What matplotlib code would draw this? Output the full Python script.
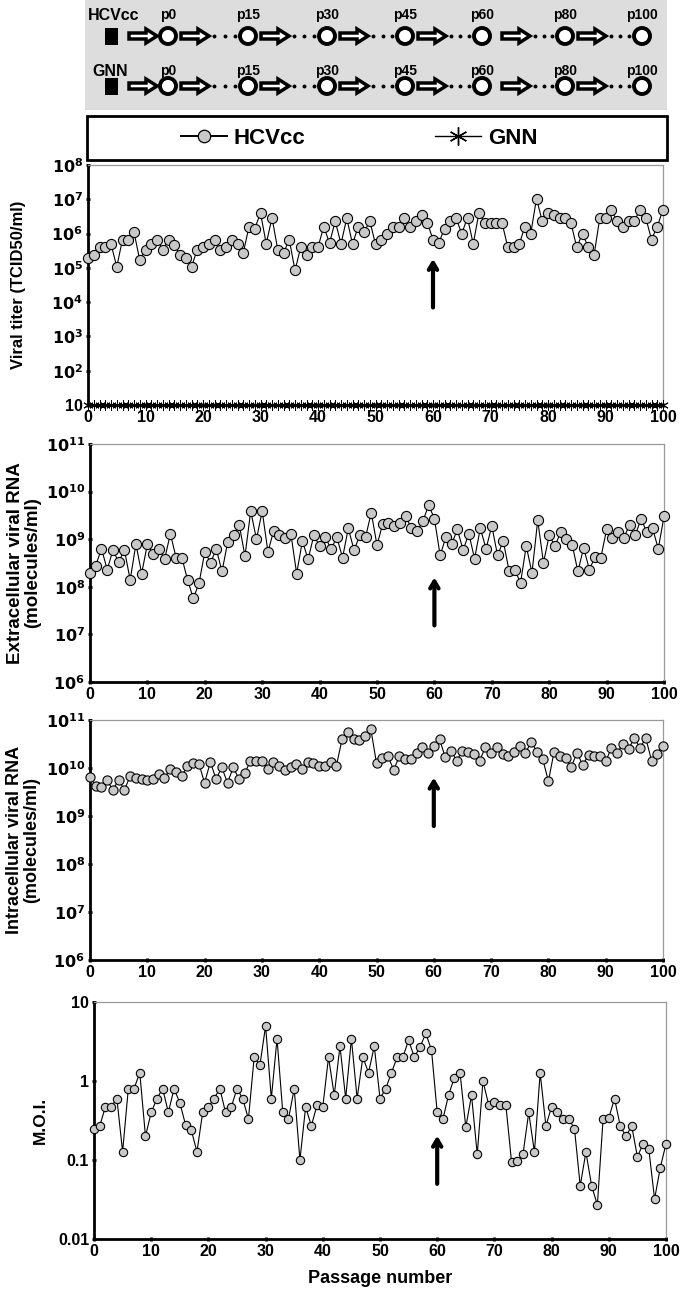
import matplotlib
matplotlib.use('Agg')
import matplotlib.pyplot as plt
from matplotlib.patches import Rectangle, Circle, FancyArrow
from matplotlib.lines import Line2D
import numpy as np

plt.rcParams['font.family'] = ['Liberation Sans', 'DejaVu Sans']
plt.rcParams['font.weight'] = 'bold'
plt.rcParams['mathtext.fontset'] = 'custom'
plt.rcParams['mathtext.rm'] = 'Liberation Sans Narrow:bold'
plt.rcParams['mathtext.bf'] = 'Liberation Sans Narrow:bold'
TICKFONT = ['Liberation Sans Narrow', 'Liberation Sans']

passage = np.arange(0, 101)

titer = [2e5, 2.3e5, 4e5, 4e5, 5e5, 1.07e5, 6.7e5, 6.7e5, 1.1e6, 1.7e5,
         3.4e5, 5e5, 6.7e5, 3.4e5, 6.7e5, 4.6e5, 2.4e5, 2e5, 1.07e5, 3.4e5,
         4e5, 5e5, 6.7e5, 3.4e5, 4e5, 6.7e5, 5e5, 2.7e5, 1.6e6, 1.4e6,
         4e6, 5e5, 2.9e6, 3.4e5, 2.7e5, 6.7e5, 8.4e4, 4e5, 2.3e5, 4e5,
         4e5, 1.6e6, 5.3e5, 2.3e6, 5e5, 2.8e6, 5e5, 1.6e6, 1.1e6, 2.3e6,
         5e5, 6.7e5, 1e6, 1.6e6, 1.6e6, 2.8e6, 1.6e6, 2.3e6, 3.4e6, 2.1e6,
         6.7e5, 5.3e5, 1.4e6, 2.3e6, 2.8e6, 1e6, 2.9e6, 5e5, 4.1e6, 2.1e6,
         2.1e6, 2.1e6, 2.1e6, 4e5, 4e5, 5e5, 1.6e6, 1e6, 1.05e7, 2.3e6,
         3.9e6, 3.4e6, 2.8e6, 2.8e6, 2e6, 4e5, 1e6, 4e5, 2.3e5, 2.8e6,
         2.8e6, 5e6, 2.3e6, 1.6e6, 2.3e6, 2.3e6, 5e6, 2.9e6, 6.7e5, 1.6e6,
         5e6]
gnn_titer = [10] * 101

extra_rna = [1.96e8, 2.8e8, 6.3e8, 2.3e8, 5.9e8, 3.3e8, 5.9e8, 1.4e8, 7.9e8, 1.9e8,
             7.9e8, 4.8e8, 6.3e8, 3.8e8, 1.3e9, 4.1e8, 4.1e8, 1.4e8, 5.7e7, 1.2e8,
             5.4e8, 3.2e8, 6.2e8, 2.1e8, 8.8e8, 1.2e9, 2e9, 4.4e8, 3.9e9, 1e9,
             3.9e9, 5.4e8, 1.5e9, 1.2e9, 1.07e9, 1.3e9, 1.9e8, 9.1e8, 3.8e8, 1.2e9,
             7.2e8, 1.1e9, 6.2e8, 1.1e9, 4.1e8, 1.7e9, 5.9e8, 1.2e9, 1.1e9, 3.6e9,
             7.5e8, 2.1e9, 2.2e9, 1.9e9, 2.2e9, 3e9, 1.7e9, 1.5e9, 2.4e9, 5.2e9,
             2.7e9, 4.6e8, 1.1e9, 7.9e8, 1.6e9, 5.9e8, 1.3e9, 3.9e8, 1.7e9, 6.3e8,
             1.9e9, 4.6e8, 9.1e8, 2.2e8, 2.3e8, 1.2e8, 7.2e8, 1.96e8, 2.5e9, 3.2e8,
             1.2e9, 7.2e8, 1.4e9, 1.03e9, 7.7e8, 2.1e8, 6.6e8, 2.3e8, 4.3e8, 4.1e8,
             1.6e9, 1.07e9, 1.4e9, 1.07e9, 2e9, 1.2e9, 2.7e9, 1.4e9, 1.7e9, 6.3e8,
             3e9]

intra_rna = [6.5e9, 4.3e9, 4e9, 5.5e9, 3.5e9, 5.7e9, 3.5e9, 6.7e9, 6.2e9, 5.9e9,
             5.7e9, 6e9, 7.5e9, 6.2e9, 9.5e9, 8.1e9, 6.7e9, 1.12e10, 1.27e10, 1.23e10,
             4.9e9, 1.33e10, 5.9e9, 1.03e10, 4.9e9, 1.03e10, 5.9e9, 7.9e9, 1.38e10, 1.38e10,
             1.42e10, 9.5e9, 1.31e10, 1.08e10, 9.2e9, 1.03e10, 1.21e10, 9.5e9, 1.31e10, 1.27e10,
             1.12e10, 1.12e10, 1.31e10, 1.12e10, 4e10, 5.5e10, 4e10, 3.9e10, 4.6e10, 6.5e10,
             1.27e10, 1.6e10, 1.75e10, 9.2e9, 1.75e10, 1.56e10, 1.56e10, 2.05e10, 2.8e10, 2.05e10,
             2.9e10, 4e10, 1.67e10, 2.3e10, 1.42e10, 2.3e10, 2.2e10, 1.95e10, 1.42e10, 2.7e10,
             2.05e10, 2.8e10, 1.95e10, 1.8e10, 2.2e10, 2.9e10, 2.05e10, 3.5e10, 2.2e10, 1.56e10,
             5.3e9, 2.2e10, 1.8e10, 1.6e10, 1.05e10, 2.1e10, 1.14e10, 1.9e10, 1.75e10, 1.8e10,
             1.38e10, 2.6e10, 2.05e10, 3.2e10, 2.5e10, 4.2e10, 2.6e10, 4.2e10, 1.42e10, 2e10,
             2.9e10]

moi = [0.25, 0.27, 0.47, 0.47, 0.6, 0.127, 0.8, 0.8, 1.27, 0.2,
       0.4, 0.6, 0.8, 0.4, 0.8, 0.53, 0.28, 0.24, 0.127, 0.4,
       0.47, 0.6, 0.8, 0.4, 0.47, 0.8, 0.6, 0.33, 2.0, 1.58,
       4.97, 0.6, 3.43, 0.4, 0.33, 0.8, 0.1, 0.47, 0.27, 0.5,
       0.47, 2.0, 0.66, 2.77, 0.6, 3.43, 0.6, 2.0, 1.27, 2.77,
       0.6, 0.8, 1.27, 2.0, 2.0, 3.3, 2.0, 2.7, 4.0, 2.47,
       0.4, 0.33, 0.67, 1.1, 1.25, 0.26, 0.66, 0.118, 1.0, 0.5,
       0.54, 0.5, 0.5, 0.094, 0.097, 0.118, 0.4, 0.126, 1.27, 0.27,
       0.47, 0.4, 0.33, 0.33, 0.25, 0.047, 0.126, 0.047, 0.027, 0.33,
       0.34, 0.6, 0.27, 0.2, 0.27, 0.11, 0.16, 0.137, 0.032, 0.08,
       0.16]

steps = ['p0', 'p15', 'p30', 'p45', 'p60', 'p80', 'p100']
rows = ['HCVcc', 'GNN']

W, H = 680, 1299
fig = plt.figure(figsize=(W / 100, H / 100), dpi=100)


def px_axes(l, t, r, b):
    return fig.add_axes([l / W, 1 - b / H, (r - l) / W, (b - t) / H])


def block_arrow(ax, x, y):
    ax.add_patch(FancyArrow(x, y, 17, 0, width=6, head_width=14, head_length=11,
                            facecolor='white', edgecolor='black', lw=2.5))


# schematic + legend box, drawn in pixel space
bg = fig.add_axes([0, 0, 1, 1], zorder=-1)
bg.set_xlim(0, W)
bg.set_ylim(H, 0)
bg.axis('off')

bg.add_patch(Rectangle((85, 0), 582, 110, facecolor='#dddddd', edgecolor='none'))
circ_x = [168, 248, 327, 405, 482, 565, 642]
for r, (name, yc, ylab) in enumerate(zip(rows, [36, 86], [15, 71])):
    bg.text(88 if r == 0 else 92, ylab, name, fontsize=11.5, fontweight='bold', va='center', ha='left')
    bg.add_patch(Rectangle((105, yc - 8), 13, 17, facecolor='black'))
    block_arrow(bg, 129, yc)
    for k, (cx, lab) in enumerate(zip(circ_x, steps)):
        bg.add_patch(Circle((cx, yc), 8, facecolor='white', edgecolor='black', lw=2.8))
        bg.text(cx, ylab, lab, fontsize=10, fontweight='bold', ha='center', va='center')
        if k < len(steps) - 1:
            a0 = cx + 13 if k != 4 else cx + 20
            block_arrow(bg, a0, yc)
            nxt = circ_x[k + 1]
            bg.plot(np.linspace(a0 + 33, nxt - 13, 3), [yc] * 3, ls='none', marker='o', ms=1.8, color='black')

bg.add_patch(Rectangle((87, 116), 580, 44, facecolor='white', edgecolor='black', lw=2))
h1 = Line2D([], [], color='black', lw=1.4, marker='o', ms=9, mfc='#c8c8c8', mec='black', mew=0.9)
h2 = Line2D([], [], color='black', lw=1.0, marker=(6, 2, 0), ms=13, mec='black', mew=1.0)
bg.legend([h1, h2], ['HCVcc', 'GNN'], loc='center', bbox_to_anchor=(0.528, 1 - 138 / H),
          bbox_transform=fig.transFigure, ncol=2, frameon=False, handlelength=2.1,
          handletextpad=0.3, columnspacing=5.8, prop={'weight': 'bold', 'size': 16})

panels = [
    (px_axes(88, 165, 663, 405), titer, (10, 1e8), range(1, 9), 'Viral titer (TCID50/ml)', 12, 18, (5.8e3, 2.2e5), 7.3),
    (px_axes(90, 444, 664, 682), extra_rna, (1e6, 1e11), range(6, 12), 'Extracellular viral RNA\n(molecules/ml)', 13.5, 3, (1.35e7, 1.8e8), 7.3),
    (px_axes(90, 720, 663, 960), intra_rna, (1e6, 1e11), range(6, 12), 'Intracellular viral RNA\n(molecules/ml)', 13, 4, (5.4e8, 7.2e9), 6.6),
    (px_axes(94, 1002, 666, 1239), moi, (0.01, 10), range(-2, 2), 'M.O.I.', 12.5, 7, (0.046, 0.22), 6.0),
]

for i, (ax, vals, ylim, exps, ylabel, yfs, lpad, arr, ms) in enumerate(panels):
    ax.plot(passage, vals, color='black', lw=0.8, marker='o', ms=ms, mfc='#c8c8c8',
            mec='black', mew=0.8, clip_on=False, zorder=3)
    if i == 0:
        ax.plot(passage, gnn_titer, color='black', lw=1.0, marker=(6, 2, 0), ms=7.5,
                mec='black', mew=0.7, clip_on=False, zorder=4)
    ax.set_yscale('log')
    ax.set_ylim(*ylim)
    ax.set_xlim(0, 100)
    ax.set_xticks(range(0, 101, 10))
    ticks = [10.0 ** e for e in exps]
    ax.set_yticks(ticks)
    if i == 3:
        ax.set_yticklabels(['0.01', '0.1', '1', '10'])
    else:
        ax.set_yticklabels(['10' if e == 1 else r'$\mathbf{10^{%d}}$' % e for e in exps])
    ax.minorticks_off()
    ax.tick_params(axis='both', labelsize=11.5, width=2, length=3, direction='inout', pad=2)
    for lab in ax.get_xticklabels() + ax.get_yticklabels():
        lab.set_fontweight('bold')
        lab.set_family(TICKFONT)
    for s in ['left', 'bottom']:
        ax.spines[s].set_linewidth(2)
    for s in ['top', 'right']:
        ax.spines[s].set_color('#999999')
        ax.spines[s].set_linewidth(0.9)
    ax.set_ylabel(ylabel, fontsize=yfs, fontweight='bold', labelpad=lpad, linespacing=1.05)
    ax.annotate('', xy=(60, arr[1]), xytext=(60, arr[0]),
                arrowprops=dict(arrowstyle='->,head_length=0.5,head_width=0.3', lw=3, color='black'))

panels[3][0].set_xlabel('Passage number', fontsize=13, fontweight='bold', labelpad=8)

fig.savefig('out.png', dpi=100)
